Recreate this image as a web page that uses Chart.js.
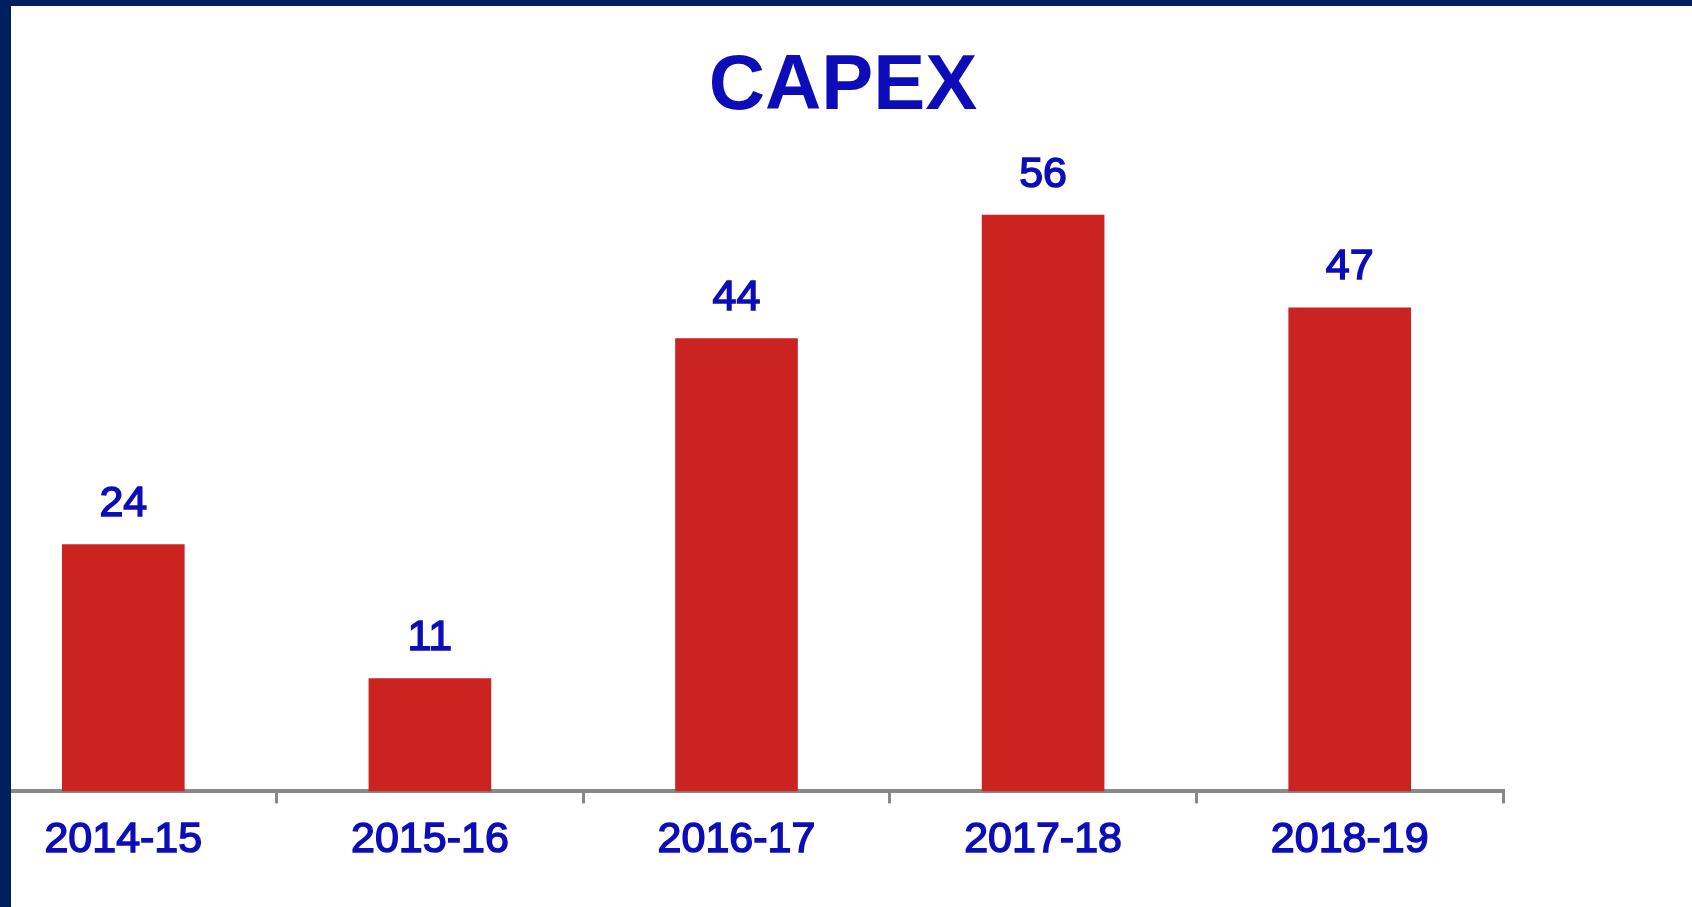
<!DOCTYPE html>
<html>
<head>
<meta charset="utf-8">
<script src="https://cdn.jsdelivr.net/npm/chart.js@4"></script>
<style>
  html, body { margin: 0; padding: 0; width: 1692px; height: 907px; overflow: hidden; background: #fff; }
  #frame { position: absolute; left: 0; top: 0; width: 1692px; height: 907px; box-sizing: border-box;
           border-top: 6px solid #001f5f; border-left: 11px solid #001f5f; pointer-events: none; z-index: 2; }
  #capexChart { position: absolute; left: -30px; top: 0; }
</style>
</head>
<body>
<canvas id="capexChart" width="1746" height="907"></canvas>
<div id="frame"></div>
<script>
// data
const years = ["2014-15", "2015-16", "2016-17", "2017-18", "2018-19"];
const capex = [24, 11, 44, 56, 47];

const textBlue = "#0c0cb8";
const axisGrey = "#898989";
const labelFont = "'Liberation Sans', Arial, sans-serif";

// value labels above each bar
const barValues = {
  id: "barValues",
  afterDatasetsDraw(chart) {
    const ctx = chart.ctx;
    const meta = chart.getDatasetMeta(0);
    ctx.save();
    ctx.fillStyle = textBlue;
    ctx.strokeStyle = textBlue;
    ctx.lineWidth = 1.5;
    ctx.font = "43px " + labelFont;
    ctx.textAlign = "center";
    ctx.textBaseline = "alphabetic";
    meta.data.forEach(function (bar, i) {
      ctx.fillText(String(capex[i]), bar.x, bar.y - 28);
      ctx.strokeText(String(capex[i]), bar.x, bar.y - 28);
    });
    ctx.restore();
  },
};

document.addEventListener("DOMContentLoaded", function () {
  const capexChart = document.getElementById("capexChart");

  new Chart(capexChart, {
    type: "bar",
    data: {
      labels: years,
      datasets: [
        {
          label: "CAPEX",
          data: capex,
          backgroundColor: "#cb2320",
          borderWidth: 0,
          barPercentage: 0.8,
          categoryPercentage: 0.5,
        },
      ],
    },
    options: {
      responsive: false,
      animation: false,
      devicePixelRatio: 1,
      layout: { padding: { left: 0, right: 0, top: 0, bottom: 30 } },
      plugins: {
        legend: { display: false },
        tooltip: { enabled: false },
        title: {
          display: true,
          text: "CAPEX",
          color: textBlue,
          font: { family: labelFont, size: 78, weight: "bold", lineHeight: 1.2 },
          padding: { top: 41, bottom: 39 },
        },
      },
      scales: {
        x: {
          z: 1,
          offset: true,
          grid: {
            offset: true,
            drawOnChartArea: false,
            drawTicks: true,
            tickLength: 12,
            color: axisGrey,
            lineWidth: 3,
          },
          border: { display: true, color: axisGrey, width: 4 },
          ticks: {
            color: textBlue,
            textStrokeColor: textBlue,
            textStrokeWidth: 1.5,
            autoSkip: false,
            maxRotation: 0,
            padding: 11,
            font: { family: labelFont, size: 43 },
          },
        },
        y: {
          position: "right",
          min: 0,
          max: 60,
          grid: { display: false },
          border: { display: false },
          ticks: { display: false },
          afterFit: function (scale) {
            scale.width = 213;
          },
        },
      },
    },
    plugins: [barValues],
  });
});
</script>
</body>
</html>
